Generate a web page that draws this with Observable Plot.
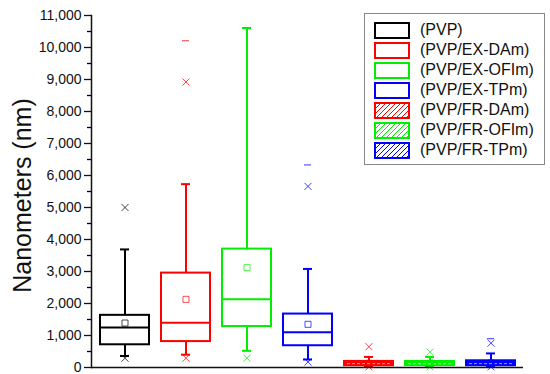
<!DOCTYPE html>
<html>
<head>
<meta charset="utf-8">
<script src="https://cdn.jsdelivr.net/npm/d3@7"></script>
<script src="https://cdn.jsdelivr.net/npm/@observablehq/plot@0.6"></script>
<style>
  body { margin: 0; background: #fff; font-family: "Liberation Sans", Arial, sans-serif; }
  #wrap { position: relative; width: 550px; height: 374px; }
  #legend { position: absolute; left: 364px; top: 13px; width: 179px; height: 150px;
    border: 1px solid #888; background: #fff; }
  .row { position: absolute; left: 9px; height: 20px; display: flex; align-items: center; }
  .sw { width: 32px; height: 13px; border: 2px solid; margin-right: 10px; box-sizing: content-box; }
  .lbl { font-size: 16px; color: #111; white-space: nowrap; }
</style>
</head>
<body>
<div id="wrap"><div id="chart"></div><div id="legend"></div></div>
<script>
const categories = ["(PVP)", "(PVP/EX-DAm)", "(PVP/EX-OFIm)", "(PVP/EX-TPm)", "(PVP/FR-DAm)", "(PVP/FR-OFIm)", "(PVP/FR-TPm)"];
const q1 =        [710, 810, 1280, 680, 55, 60, 55];
const median =    [1250, 1400, 2130, 1100, 120, 120, 120];
const q3 =        [1630, 2950, 3700, 1670, 190, 190, 210];
const whiskLow =  [360, 400, 520, 250, 20, 20, 20];
const whiskHigh = [3690, 5730, 10610, 3080, 330, 330, 440];
const means =     [1390, 2130, 3120, 1350, 130, 130, 140];
const p99 =       [5000, 8920, null, 5660, 650, 480, 760];
const p1 =        [290, 290, 290, 170, 20, 20, 20];
const maxVals =   [null, 10210, null, 6330, null, null, 900];
const hatched =   [false, false, false, false, true, true, true];
const colors = ["#000000", "#ff0000", "#00ee00", "#0000ff", "#ff0000", "#00ee00", "#0000ff"];
const yTicks = d3.range(0, 11001, 1000);
const yMinorTicks = d3.range(500, 11000, 1000);

const rows = categories.map((c, i) => ({
  cat: c, q1: q1[i], med: median[i], q3: q3[i], lo: whiskLow[i], hi: whiskHigh[i],
  mean: means[i], p99: p99[i], p1: p1[i], max: maxVals[i], fr: hatched[i]
}));
const exRows = rows.filter(d => !d.fr);
const frRows = rows.filter(d => d.fr);

const plot = Plot.plot({
  width: 550, height: 374,
  marginLeft: 91, marginRight: 27, marginTop: 15, marginBottom: 7,
  style: { fontFamily: "Liberation Sans, Arial, sans-serif", background: "transparent" },
  x: { domain: categories, paddingInner: 0.2, paddingOuter: 0.1, axis: null },
  y: { domain: [0, 11000] },
  color: { domain: categories, range: colors },
  marks: [
    Plot.axisY(yTicks, { tickSize: 7, tickPadding: 3, fontSize: 14, tickFormat: d3.format(","), label: null, strokeWidth: 1.3, color: "#111" }),
    Plot.axisY(yMinorTicks, { tickSize: 4, tickFormat: () => "", label: null, strokeWidth: 1.3 }),
    Plot.text(["Nanometers (nm)"], { frameAnchor: "left", textAnchor: "middle", rotate: -90, dx: -69, dy: 4, fontSize: 25, fill: "#111" }),
    // whiskers
    Plot.ruleX(rows, { x: "cat", y1: "q3", y2: "hi", stroke: "cat", strokeWidth: 2 }),
    Plot.ruleX(rows, { x: "cat", y1: "lo", y2: "q1", stroke: "cat", strokeWidth: 2 }),
    Plot.tickY(rows, { x: "cat", y: "hi", stroke: "cat", strokeWidth: 2, insetLeft: 20, insetRight: 20 }),
    Plot.tickY(rows, { x: "cat", y: "lo", stroke: "cat", strokeWidth: 2, insetLeft: 20, insetRight: 20 }),
    // boxes
    Plot.barY(exRows, { x: "cat", y1: "q1", y2: "q3", stroke: "cat", strokeWidth: 2, fill: "white" }),
    Plot.barY(frRows, { x: "cat", y1: "q1", y2: "q3", stroke: "cat", strokeWidth: 2, fill: "cat" }),
    Plot.tickY(exRows, { x: "cat", y: "med", stroke: "cat", strokeWidth: 2 }),
    Plot.tickY(frRows, { x: "cat", y: "med", stroke: "white", strokeOpacity: 0.6, strokeWidth: 1, strokeDasharray: "3,2", insetLeft: 3, insetRight: 3 }),
    // mean
    Plot.dot(rows, { x: "cat", y: "mean", symbol: "square", r: 3.4, stroke: "cat", strokeWidth: 1, strokeOpacity: 0.7 }),
    // 1% / 99%
    Plot.dot(rows.filter(d => d.p99 != null), { x: "cat", y: "p99", symbol: "times", r: 3.3, stroke: "cat", strokeWidth: 1, strokeOpacity: 0.75 }),
    Plot.dot(rows, { x: "cat", y: "p1", symbol: "times", r: 3.3, stroke: "cat", strokeWidth: 1, strokeOpacity: 0.75 }),
    // max
    Plot.tickY(rows.filter(d => d.max != null), { x: "cat", y: "max", stroke: "cat", strokeWidth: 1, strokeOpacity: 0.8, insetLeft: 21, insetRight: 21 }),
    Plot.ruleY([0], { stroke: "#111", strokeWidth: 1.5 }),
    Plot.frame({ anchor: "left", stroke: "#111", strokeWidth: 1.5 })
  ]
});
document.getElementById("chart").appendChild(plot);

const legend = document.getElementById("legend");
categories.forEach((c, i) => {
  const row = document.createElement("div");
  row.className = "row";
  row.style.top = (6 + i * 20) + "px";
  const sw = document.createElement("div");
  sw.className = "sw";
  sw.style.borderColor = colors[i];
  if (hatched[i]) {
    sw.style.background = `repeating-linear-gradient(135deg, #fff 0px, #fff 2.5px, ${colors[i]} 2.5px, ${colors[i]} 3.5px)`;
  }
  const lbl = document.createElement("span");
  lbl.className = "lbl";
  lbl.textContent = c;
  row.appendChild(sw);
  row.appendChild(lbl);
  legend.appendChild(row);
});
</script>
</body>
</html>
